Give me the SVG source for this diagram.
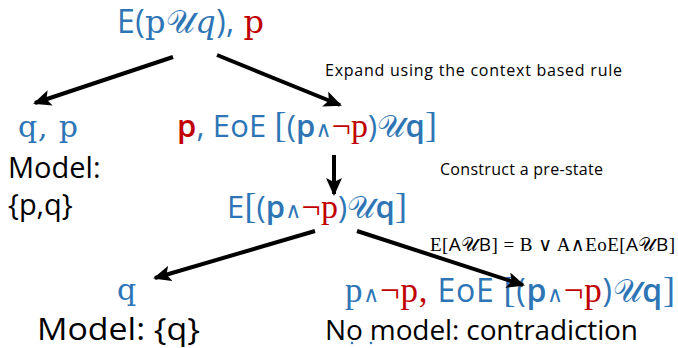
<svg xmlns="http://www.w3.org/2000/svg" width="678" height="348" viewBox="0 0 678 348">
  <defs>
    <marker id="head" markerUnits="userSpaceOnUse" markerWidth="18" markerHeight="16" refX="16" refY="8" orient="auto">
      <path d="M0,0 L18,8 L0,16 L4,8 Z" fill="#000"/>
    </marker>
    <style>
      .sans { font-family: "Open Sans", "Liberation Sans", sans-serif; }
      .serif { font-family: "DejaVu Serif", "Liberation Serif", serif; }
      .math { font-family: "Liberation Serif", "DejaVu Serif", serif; }
      .scr { font-family: "DejaVu Serif", "Liberation Serif", serif; }
      .it { font-style: italic; }
      .blue { fill: #2E75B6; }
      .red { fill: #C00000; }
      .ink { fill: #000; }
      .edge { stroke: #000; stroke-width: 4; fill: none; marker-end: url(#head); }
    </style>
  </defs>
  <rect width="678" height="348" fill="#fff"/>

  <!-- root formula -->
  <g id="root">
    <text x="117" y="33" font-size="32" textLength="147" lengthAdjust="spacing"><tspan class="sans blue">E(</tspan><tspan class="serif blue">p</tspan><tspan class="scr blue">𝒰</tspan><tspan class="serif it blue">q</tspan><tspan class="sans blue">), </tspan><tspan class="serif red">p</tspan></text>
  </g>

  <!-- left branch: satisfied immediately -->
  <g id="leaf-left">
    <text class="serif blue" x="18" y="137" font-size="30" textLength="60" lengthAdjust="spacing">q, p</text>
    <text class="sans ink" x="8" y="178" font-size="29">Model:</text>
    <text class="sans ink" x="8" y="215" font-size="29">{p,q}</text>
  </g>

  <!-- right branch: expanded with the context based rule -->
  <g id="expanded">
    <text x="177" y="137" font-size="31" textLength="260" lengthAdjust="spacing"><tspan class="sans red" font-weight="600">p</tspan><tspan class="sans blue">, EoE </tspan><tspan class="math blue" font-size="36">[</tspan><tspan class="sans blue">(</tspan><tspan class="sans blue" font-weight="600">p</tspan><tspan class="math blue" font-size="22">∧</tspan><tspan class="math red" font-size="34">¬p</tspan><tspan class="sans blue">)</tspan><tspan class="scr blue">𝒰</tspan><tspan class="sans blue" font-weight="600">q</tspan><tspan class="math blue" font-size="36">]</tspan></text>
  </g>

  <!-- pre-state -->
  <g id="prestate">
    <text x="227" y="218" font-size="31" textLength="180" lengthAdjust="spacing"><tspan class="sans blue">E</tspan><tspan class="math blue" font-size="36">[</tspan><tspan class="sans blue">(</tspan><tspan class="sans blue" font-weight="600">p</tspan><tspan class="math blue" font-size="22">∧</tspan><tspan class="math red" font-size="34">¬p</tspan><tspan class="sans blue">)</tspan><tspan class="scr blue">𝒰</tspan><tspan class="sans blue" font-weight="600">q</tspan><tspan class="math blue" font-size="36">]</tspan></text>
  </g>

  <!-- bottom left leaf -->
  <g id="leaf-q">
    <text class="serif blue" x="117" y="300" font-size="30">q</text>
    <text class="sans ink" x="37" y="340" font-size="31" textLength="163" lengthAdjust="spacingAndGlyphs">Model: {q}</text>
  </g>

  <!-- bottom right leaf: contradiction -->
  <g id="leaf-contradiction">
    <text x="345" y="302" font-size="32" textLength="330" lengthAdjust="spacing"><tspan class="math blue" font-size="35">p</tspan><tspan class="math blue" font-size="22">∧</tspan><tspan class="math red" font-size="35">¬p, </tspan><tspan class="sans blue">EoE </tspan><tspan class="math blue" font-size="36">[</tspan><tspan class="sans blue">(</tspan><tspan class="sans blue" font-weight="600">p</tspan><tspan class="math blue" font-size="22">∧</tspan><tspan class="math red" font-size="35">¬p</tspan><tspan class="sans blue">)</tspan><tspan class="scr blue">𝒰</tspan><tspan class="sans blue" font-weight="600">q</tspan><tspan class="math blue" font-size="36">]</tspan></text>
    <text class="sans ink" x="325" y="340" font-size="28" textLength="313" lengthAdjust="spacing">No model: contradiction</text>
    <circle cx="352" cy="343" r="1.3" fill="#2E75B6"/>
    <circle cx="371" cy="343" r="1.3" fill="#2E75B6"/>
  </g>

  <!-- annotations -->
  <g id="notes">
    <text class="sans ink" x="325" y="76" font-size="16" textLength="297" lengthAdjust="spacing">Expand  using the context based rule</text>
    <text class="sans ink" x="440" y="175" font-size="16" textLength="163" lengthAdjust="spacing">Construct a pre-state</text>
    <text class="math ink" x="430" y="251" font-size="19" textLength="245" lengthAdjust="spacing">E[<tspan class="sans">A</tspan><tspan class="scr">𝒰</tspan><tspan class="sans">B</tspan>] = B ∨ A∧EoE[<tspan class="sans">A</tspan><tspan class="scr">𝒰</tspan><tspan class="sans">B</tspan>]</text>
  </g>

  <!-- connectors -->
  <g id="connectors">
    <line class="edge" x1="173" y1="57" x2="35" y2="103"/>
    <line class="edge" x1="217" y1="55" x2="340" y2="105"/>
    <line class="edge" x1="334" y1="155" x2="334" y2="194"/>
    <line class="edge" x1="315" y1="231" x2="155" y2="278"/>
    <line class="edge" x1="357" y1="231" x2="523" y2="285"/>
  </g>
</svg>
